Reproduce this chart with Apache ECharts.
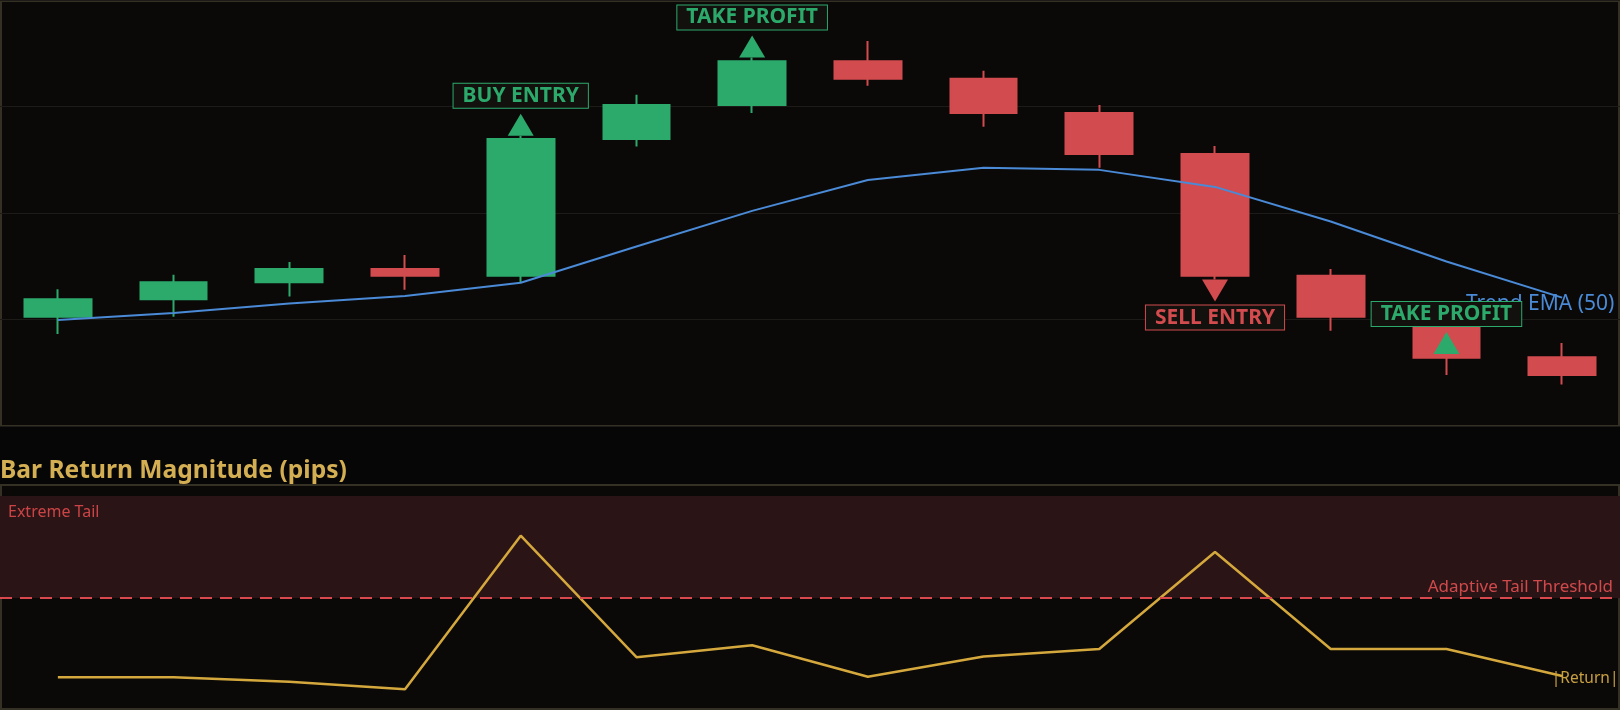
<!DOCTYPE html>
<html>
<head>
<meta charset="utf-8">
<script src="https://cdn.jsdelivr.net/npm/echarts@6/dist/echarts.min.js"></script>
<style>
  html, body { margin: 0; padding: 0; background: #060606; }
  #chart { width: 1620px; height: 710px; }
</style>
</head>
<body>
<div id="chart"></div>
<script>
// ---- data (price in pips relative to a base level) ----
const categories = ['09:00','09:15','09:30','09:45','10:00','10:15','10:30','10:45','11:00','11:15','11:30','11:45','12:00','12:15'];
const opens  = [20.5, 23.8, 27.0, 29.5, 28.2, 53.9, 60.3, 68.5, 65.2, 58.8, 51.1, 28.2, 20.5, 12.9];
const closes = [23.8, 27.0, 29.5, 28.2, 53.9, 60.3, 68.5, 65.2, 58.8, 51.1, 28.2, 20.5, 12.8, 9.6];
const lows   = [17.3, 20.5, 24.3, 25.6, 26.9, 52.5, 58.8, 63.9, 56.2, 48.5, 27.5, 17.9, 9.6, 7.8];
const highs  = [25.7, 28.4, 30.8, 32.1, 54.5, 62.2, 69.2, 72.3, 66.7, 60.3, 52.6, 29.5, 22.5, 15.6];
const ema50  = [19.9, 21.2, 23.0, 24.4, 26.9, 33.7, 40.4, 46.2, 48.5, 48.1, 44.9, 38.4, 30.9, 24.1];
const returnPips = [3.2, 3.2, 2.5, 1.3, 25.7, 6.4, 8.3, 3.3, 6.5, 7.7, 23.1, 7.7, 7.7, 3.4];
const tailThreshold = 15.8;
const signalBar   = [4, 6, 10, 12];
const signalText  = ['BUY ENTRY', 'TAKE PROFIT', 'SELL ENTRY', 'TAKE PROFIT'];
const signalPrice = [54.5, 69.2, 27.5, 13.5];
const signalDir   = ['up', 'up', 'down', 'up'];
const priceTicks  = [0, 80, 20];   // min, max, interval
const returnTicks = [0, 32];       // min, max

// ---- styles ----
const GREEN = '#2caa6c', RED = '#d24b4e', BLUE = '#4a8ad6', GOLD = '#d4a83c';
const FONT = '"Noto Sans", "Open Sans", sans-serif';
const BORDER = '#353024';

const chart = echarts.init(document.getElementById('chart'), null, { renderer: 'canvas' });

const lastCat = categories[categories.length - 1];
const candleData = categories.map((c, i) => [opens[i], closes[i], lows[i], highs[i]]);
const markerData = signalBar.map((b, k) => {
  const up = signalDir[k] === 'up';
  const col = (signalText[k] === 'SELL ENTRY') ? RED : GREEN;
  return {
    value: [categories[b], signalPrice[k]],
    symbol: up ? 'triangle' : 'path://M0,0L2,0L1,2Z',
    symbolOffset: [0, up ? -11 : 11],
    itemStyle: { color: col, opacity: 1 }
  };
});
const labelData = signalBar.map((b, k) => {
  const up = signalDir[k] === 'up';
  const col = (signalText[k] === 'SELL ENTRY') ? RED : GREEN;
  return {
    value: [categories[b], signalPrice[k]],
    label: {
      show: true, formatter: signalText[k], position: 'inside',
      offset: [0, up ? -40 : 38],
      color: col, fontFamily: FONT, fontWeight: 'bold', fontSize: 21,
      lineHeight: 22, padding: [1, 9, 1, 9],
      backgroundColor: '#13110d', borderColor: col, borderWidth: 1
    }
  };
});

const option = {
  backgroundColor: '#060606',
  animation: false,
  textStyle: { fontFamily: FONT },
  graphic: [
    { type: 'rect', z: -5, shape: { x: 1, y: 1, width: 1618, height: 425 },
      style: { fill: '#0a0908', stroke: BORDER, lineWidth: 2 } },
    { type: 'rect', z: -5, shape: { x: 1, y: 485, width: 1618, height: 224 },
      style: { fill: '#0a0908', stroke: BORDER, lineWidth: 2 } },
    { type: 'text', z: 5, x: 0, y: 471,
      style: { text: 'Bar Return Magnitude (pips)', fill: '#d4ae52',
               font: 'bold 24.6px ' + FONT, verticalAlign: 'middle', align: 'left' } }
  ],
  grid: [
    { left: 0, right: 0, top: 0, height: 426 },
    { left: 0, right: 0, top: 496, height: 201.5 }
  ],
  xAxis: [
    { type: 'category', data: categories, gridIndex: 0, show: false },
    { type: 'category', data: categories, gridIndex: 1, show: false }
  ],
  yAxis: [
    { type: 'value', gridIndex: 0, min: priceTicks[0], max: priceTicks[1], interval: priceTicks[2],
      axisLabel: { show: false }, axisLine: { show: false }, axisTick: { show: false },
      splitLine: { show: true, lineStyle: { color: '#1d1b18', width: 1 } } },
    { type: 'value', gridIndex: 1, min: returnTicks[0], max: returnTicks[1],
      axisLabel: { show: false }, axisLine: { show: false }, axisTick: { show: false },
      splitLine: { show: false } }
  ],
  series: [
    {
      name: 'Price', type: 'candlestick', xAxisIndex: 0, yAxisIndex: 0,
      data: candleData, barWidth: '58%',
      itemStyle: { color: GREEN, color0: RED, borderColor: GREEN, borderColor0: RED, borderWidth: 2 }
    },
    {
      name: 'Trend EMA (50)', type: 'line', xAxisIndex: 0, yAxisIndex: 0,
      data: ema50, symbol: 'none', z: 3,
      lineStyle: { color: BLUE, width: 2 },
      markPoint: {
        symbol: 'circle', symbolSize: 0, silent: true,
        data: [{ coord: [lastCat, ema50[ema50.length - 1]] }],
        label: { show: true, formatter: 'Trend EMA (50)', position: 'inside', offset: [-22, 6],
                 color: BLUE, fontSize: 21, fontFamily: FONT }
      }
    },
    {
      name: 'Signals', type: 'scatter', xAxisIndex: 0, yAxisIndex: 0, z: 6,
      symbolSize: [26, 22], symbolKeepAspect: false,
      itemStyle: { opacity: 1 },
      data: markerData
    },
    {
      name: 'Signal labels', type: 'scatter', xAxisIndex: 0, yAxisIndex: 0, z: 8,
      symbolSize: 1, itemStyle: { color: 'rgba(0,0,0,0)', opacity: 1 },
      data: labelData
    },
    {
      name: '|Return|', type: 'line', xAxisIndex: 1, yAxisIndex: 1,
      data: returnPips, symbol: 'none', z: 4,
      lineStyle: { color: GOLD, width: 2.5 },
      markPoint: {
        symbol: 'circle', symbolSize: 0, silent: true,
        data: [{ coord: [lastCat, returnPips[returnPips.length - 1]] }],
        label: { show: true, formatter: '|Return|', position: 'inside', offset: [23, 2],
                 color: '#c9a040', fontSize: 15.5, fontFamily: FONT }
      },
      markArea: {
        silent: true,
        itemStyle: { color: '#2b1416', opacity: 1 },
        label: { show: true, position: 'insideTopLeft', distance: 8, color: '#cc4446',
                 fontSize: 16, fontFamily: FONT },
        data: [[{ name: 'Extreme Tail', yAxis: tailThreshold }, { yAxis: returnTicks[1] }]]
      },
      markLine: {
        silent: true, symbol: ['none', 'none'],
        lineStyle: { color: '#d9484c', type: [12, 8], width: 2 },
        label: { show: true, formatter: 'Adaptive Tail Threshold', position: 'insideEndTop',
                 distance: [7, 2], color: '#d04a4c', fontSize: 17, fontFamily: FONT },
        data: [{ yAxis: tailThreshold }]
      }
    }
  ]
};
chart.setOption(option);
</script>
</body>
</html>
